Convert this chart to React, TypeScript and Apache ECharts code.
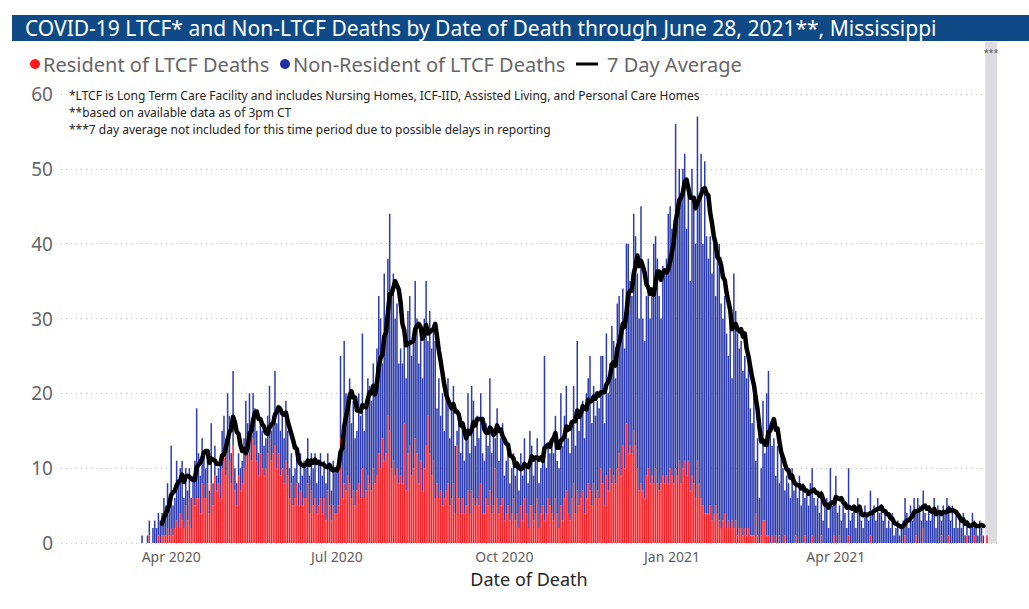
import React, { useEffect, useRef } from "react";
import * as echarts from "echarts";

// Axis spans 1 Feb 2020 .. 28 Jun 2021 (one category per day)
const AXIS_FIRST = { y: 2020, m: 1, d: 1 };
const AXIS_DAYS = 514;
// First date of the daily series: 16 Mar 2020
const FIRST_DAY = { y: 2020, m: 2, d: 16 };

// Daily total deaths (resident + non-resident), month by month
const total2020Mar = [1, 0, 0, 1, 3, 0, 2, 3, 2, 4, 3, 4, 6, 5, 8, 6];
const total2020Apr = [13, 5, 6, 11, 8, 10, 11, 6, 10, 7, 10, 6, 9, 11, 18, 12, 9, 14, 12, 10, 11, 7, 16, 8, 13, 9, 10, 11, 15, 17];
const total2020May = [14, 20, 17, 12, 23, 10, 8, 12, 10, 11, 14, 19, 16, 20, 15, 20, 18, 15, 12, 16, 15, 13, 14, 17, 21, 15, 17, 23, 16, 18, 15];
const total2020Jun = [17, 14, 19, 15, 10, 12, 9, 10, 13, 8, 12, 9, 11, 10, 14, 9, 12, 10, 12, 8, 11, 12, 9, 11, 8, 12, 10, 7, 11, 10];
const total2020Jul = [10, 12, 25, 14, 27, 20, 18, 22, 16, 19, 14, 15, 20, 17, 28, 15, 18, 22, 21, 19, 24, 20, 26, 33, 30, 24, 36, 28, 38, 44, 33];
const total2020Aug = [36, 30, 32, 24, 26, 24, 27, 22, 31, 33, 25, 27, 35, 30, 24, 28, 22, 30, 35, 27, 31, 26, 29, 27, 18, 22, 17, 20, 15, 20, 22];
const total2020Sep = [14, 18, 21, 13, 15, 17, 12, 16, 11, 14, 20, 12, 21, 19, 13, 17, 14, 20, 12, 11, 16, 13, 22, 12, 15, 14, 18, 11, 14, 16];
const total2020Oct = [9, 11, 13, 8, 10, 12, 9, 11, 7, 12, 9, 14, 10, 8, 15, 13, 9, 11, 14, 8, 10, 12, 25, 10, 13, 12, 14, 12, 17, 11, 10];
const total2020Nov = [20, 13, 17, 21, 14, 12, 16, 21, 13, 27, 15, 17, 19, 14, 20, 22, 25, 16, 21, 17, 19, 18, 25, 25, 16, 28, 20, 24, 29, 27];
const total2020Dec = [22, 32, 33, 28, 34, 26, 40, 40, 35, 33, 44, 41, 36, 30, 45, 30, 27, 33, 38, 30, 34, 40, 41, 38, 33, 30, 37, 36, 38, 44, 45];
const total2021Jan = [42, 40, 56, 44, 50, 46, 50, 52, 42, 48, 35, 50, 46, 40, 57, 46, 52, 40, 51, 41, 38, 41, 36, 40, 33, 38, 40, 32, 30, 33, 28];
const total2021Feb = [25, 30, 22, 36, 31, 28, 26, 27, 23, 25, 22, 24, 18, 16, 20, 11, 14, 6, 10, 19, 12, 20, 23, 15, 13, 14, 9, 13];
const total2021Mar = [8, 13, 10, 7, 9, 8, 6, 10, 7, 8, 6, 9, 5, 8, 6, 7, 5, 8, 10, 6, 5, 6, 4, 7, 3, 5, 6, 2, 10, 5, 6];
const total2021Apr = [9, 4, 5, 3, 6, 4, 2, 10, 3, 4, 5, 2, 6, 4, 3, 2, 5, 4, 3, 7, 4, 5, 3, 6, 4, 5, 3, 4, 2, 3];
const total2021May = [2, 4, 1, 2, 3, 1, 2, 3, 6, 4, 2, 5, 3, 6, 4, 6, 5, 3, 7, 4, 3, 5, 3, 4, 6, 2, 5, 4, 3, 5, 4];
const total2021Jun = [6, 5, 3, 5, 2, 4, 2, 3, 2, 4, 1, 3, 1, 2, 4, 3, 2, 1, 3, 2, 1, 0, 1, 0, 0, 0, 0, 0];

// Daily deaths of residents of long term care facilities
const res2020Mar = [0, 0, 0, 0, 1, 0, 0, 0, 0, 1, 0, 1, 1, 1, 2, 1];
const res2020Apr = [2, 1, 2, 3, 2, 4, 3, 2, 5, 3, 6, 2, 6, 5, 6, 6, 4, 8, 6, 6, 8, 4, 8, 5, 9, 7, 8, 6, 10, 12];
const res2020May = [9, 12, 11, 8, 13, 7, 5, 9, 7, 8, 10, 13, 12, 15, 11, 14, 13, 11, 9, 12, 10, 9, 10, 12, 14, 11, 12, 13, 10, 12, 9];
const res2020Jun = [10, 8, 11, 9, 6, 8, 5, 6, 8, 5, 7, 5, 6, 6, 8, 4, 7, 5, 6, 4, 5, 6, 4, 6, 3, 7, 5, 3, 5, 4];
const res2020Jul = [4, 5, 14, 6, 8, 7, 9, 8, 6, 7, 5, 7, 8, 6, 10, 6, 7, 9, 8, 7, 10, 8, 9, 12, 10, 14, 11, 12, 17, 15, 10];
const res2020Aug = [11, 9, 10, 8, 9, 8, 16, 7, 12, 13, 9, 10, 14, 12, 8, 11, 7, 10, 13, 17, 12, 9, 11, 6, 8, 6, 7, 5, 6, 7, 8];
const res2020Sep = [5, 6, 8, 4, 13, 6, 4, 6, 4, 5, 7, 4, 7, 6, 5, 6, 5, 8, 4, 4, 6, 5, 7, 4, 5, 10, 6, 4, 5, 6];
const res2020Oct = [3, 4, 5, 3, 4, 6, 3, 4, 2, 5, 3, 6, 4, 2, 5, 5, 3, 4, 6, 2, 4, 5, 3, 4, 6, 5, 4, 3, 6, 4, 2];
const res2020Nov = [5, 3, 6, 7, 4, 3, 6, 8, 4, 7, 5, 6, 7, 4, 6, 8, 7, 5, 8, 6, 7, 6, 10, 8, 5, 9, 7, 10, 8, 9];
const res2020Dec = [8, 10, 12, 9, 13, 10, 16, 12, 13, 12, 15, 13, 10, 7, 8, 7, 6, 9, 10, 8, 9, 8, 10, 8, 7, 8, 9, 8, 9, 8, 10];
const res2021Jan = [9, 8, 10, 9, 11, 8, 10, 11, 9, 11, 7, 9, 8, 6, 11, 8, 6, 5, 4, 4, 4, 5, 3, 4, 5, 4, 3, 2, 3, 4, 2];
const res2021Feb = [3, 2, 3, 2, 3, 1, 2, 2, 1, 2, 1, 2, 1, 1, 1, 4, 1, 0, 1, 3, 3, 1, 1, 0, 1, 0, 1, 0];
const res2021Mar = [1, 0, 0, 1, 0, 0, 0, 0, 0, 1, 0, 0, 0, 0, 1, 0, 0, 0, 1, 0, 0, 0, 0, 1, 0, 0, 0, 0, 0, 0, 1];
const res2021Apr = [0, 0, 1, 0, 0, 0, 0, 1, 0, 0, 0, 0, 0, 0, 0, 0, 0, 0, 0, 1, 0, 0, 0, 0, 0, 0, 0, 0, 0, 0];
const res2021May = [0, 0, 0, 0, 0, 0, 0, 0, 1, 0, 0, 0, 0, 0, 1, 0, 0, 0, 2, 0, 0, 0, 0, 0, 0, 0, 0, 0, 1, 0, 0];
const res2021Jun = [0, 1, 0, 0, 0, 0, 0, 0, 0, 0, 0, 1, 0, 0, 0, 1, 0, 0, 0, 1, 0, 0, 1, 0, 0, 0, 0, 0];

// Period shown with the 7-day average (later days excluded: reporting delays)
const AVG_FIRST = "2020-03-27";
const AVG_LAST = "2021-06-21";
const EXCLUDED_FROM = "2021-06-22";

const X_TICKS = ["2020-04-01", "2020-07-01", "2020-10-01", "2021-01-01", "2021-04-01"];
const MONTHS = ["Jan", "Feb", "Mar", "Apr", "May", "Jun", "Jul", "Aug", "Sep", "Oct", "Nov", "Dec"];

const TITLE = "COVID-19 LTCF* and Non-LTCF Deaths by Date of Death through June 28, 2021**, Mississippi";
const NOTES = [
  "*LTCF is Long Term Care Facility and includes Nursing Homes, ICF-IID, Assisted Living, and Personal Care Homes",
  "**based on available data as of 3pm CT",
  "***7 day average not included for this time period due to possible delays in reporting",
];

const RED = "#fb1f26";
const BLUE = "#2b3aad";
const FONT = '"Noto Sans", "DejaVu Sans", sans-serif';

const iso = (t: number) => new Date(t).toISOString().slice(0, 10);

export default function App() {
  const ref = useRef<HTMLDivElement>(null);

  useEffect(() => {
    if (!ref.current) return;
    const chart = echarts.init(ref.current, undefined, { renderer: "svg" });

    const totals = [
      ...total2020Mar, ...total2020Apr, ...total2020May, ...total2020Jun, ...total2020Jul, ...total2020Aug,
      ...total2020Sep, ...total2020Oct, ...total2020Nov, ...total2020Dec, ...total2021Jan, ...total2021Feb,
      ...total2021Mar, ...total2021Apr, ...total2021May, ...total2021Jun,
    ];
    const residents = [
      ...res2020Mar, ...res2020Apr, ...res2020May, ...res2020Jun, ...res2020Jul, ...res2020Aug,
      ...res2020Sep, ...res2020Oct, ...res2020Nov, ...res2020Dec, ...res2021Jan, ...res2021Feb,
      ...res2021Mar, ...res2021Apr, ...res2021May, ...res2021Jun,
    ];

    const categories: string[] = [];
    for (let i = 0; i < AXIS_DAYS; i++) categories.push(iso(Date.UTC(AXIS_FIRST.y, AXIS_FIRST.m, AXIS_FIRST.d + i)));
    const firstKey = iso(Date.UTC(FIRST_DAY.y, FIRST_DAY.m, FIRST_DAY.d));
    const offset = categories.indexOf(firstKey);

    const resData = categories.map((_, i) => (i >= offset && i - offset < residents.length ? residents[i - offset] : null));
    const nonResData = categories.map((_, i) =>
      i >= offset && i - offset < totals.length ? totals[i - offset] - residents[i - offset] : null
    );
    const avgData = categories.map((c, i) => {
      const j = i - offset;
      if (c < AVG_FIRST || c > AVG_LAST || j < 6) return null;
      let s = 0;
      for (let k = j - 6; k <= j; k++) s += totals[k];
      return s / 7;
    });

    const option: any = {
      animation: false,
      backgroundColor: "#ffffff",
      grid: { left: 61, right: 32, top: 94, bottom: 66 },
      xAxis: {
        type: "category",
        data: categories,
        boundaryGap: true,
        axisLine: { show: false },
        axisTick: { show: false },
        splitLine: { show: false },
        axisLabel: {
          interval: (_: number, v: string) => X_TICKS.indexOf(v) >= 0,
          formatter: (v: string) => MONTHS[Number(v.slice(5, 7)) - 1] + " " + v.slice(0, 4),
          color: "#605e5c",
          fontSize: 14,
          fontFamily: FONT,
          margin: 6,
          hideOverlap: false,
        },
        name: "Date of Death",
        nameLocation: "middle",
        nameGap: 27,
        nameTextStyle: { color: "#252423", fontSize: 18, fontFamily: FONT },
      },
      yAxis: {
        type: "value",
        min: 0,
        max: 60,
        interval: 10,
        axisLine: { show: false },
        axisTick: { show: false },
        axisLabel: { color: "#666666", fontSize: 19, fontFamily: FONT, margin: 8 },
        splitLine: { show: true, lineStyle: { color: "#c8c8c8", type: [1, 4], width: 1 } },
      },
      series: [
        {
          name: "Resident of LTCF Deaths",
          type: "bar",
          stack: "deaths",
          barCategoryGap: "18%",
          itemStyle: { color: RED },
          data: resData,
          z: 2,
        },
        {
          name: "Non-Resident of LTCF Deaths",
          type: "bar",
          stack: "deaths",
          barCategoryGap: "18%",
          itemStyle: { color: BLUE },
          data: nonResData,
          z: 2,
        },
        {
          name: "7 Day Average",
          type: "line",
          showSymbol: false,
          symbol: "none",
          connectNulls: false,
          lineStyle: { color: "#000000", width: 4.5, join: "round", cap: "round" },
          data: avgData,
          z: 4,
        },
      ],
    };
    chart.setOption(option);

    const bandW = 936 / AXIS_DAYS;
    const bx0 = chart.convertToPixel({ xAxisIndex: 0 }, EXCLUDED_FROM) as number;
    const bx1 = (chart.convertToPixel({ xAxisIndex: 0 }, categories[AXIS_DAYS - 1]) as number) + bandW / 2;
    const by0 = chart.convertToPixel({ yAxisIndex: 0 }, 0) as number;

    const graphics: any[] = [
      { type: "rect", shape: { x: 12, y: 15, width: 1017, height: 26 }, style: { fill: "#0f4a86" }, z: 10 },
      {
        type: "text", x: 25, y: 28, z: 11,
        style: { text: TITLE, fill: "#ffffff", fontSize: 21, fontFamily: FONT, verticalAlign: "middle" },
      },
      // excluded period band
      { type: "rect", shape: { x: bx0, y: 42, width: bx1 - bx0, height: by0 - 42 }, style: { fill: "#dcdce0" }, z: 1 },
      {
        type: "text", x: (bx0 + bx1) / 2, y: 52, z: 3,
        style: { text: "***", fill: "#555555", fontSize: 9, fontFamily: FONT, align: "center", verticalAlign: "middle" },
      },
      // legend
      { type: "circle", shape: { cx: 35, cy: 64, r: 5 }, style: { fill: "#ff1a1a" }, z: 10 },
      {
        type: "text", x: 43, y: 64, z: 10,
        style: { text: "Resident of LTCF Deaths", fill: "#666666", fontSize: 20, fontFamily: FONT, verticalAlign: "middle" },
      },
      { type: "circle", shape: { cx: 285, cy: 64, r: 5 }, style: { fill: "#1f2fa6" }, z: 10 },
      {
        type: "text", x: 293, y: 64, z: 10,
        style: { text: "Non-Resident of LTCF Deaths", fill: "#666666", fontSize: 20, fontFamily: FONT, verticalAlign: "middle" },
      },
      { type: "line", shape: { x1: 576, y1: 64, x2: 598, y2: 64 }, style: { stroke: "#000000", lineWidth: 3 }, z: 10 },
      {
        type: "text", x: 607, y: 64, z: 10,
        style: { text: "7 Day Average", fill: "#666666", fontSize: 20, fontFamily: FONT, verticalAlign: "middle" },
      },
      // notes
      ...NOTES.map((t, i) => ({
        type: "text", x: 69, y: 95 + i * 17, z: 10,
        style: { text: t, fill: "#252423", fontSize: 12, fontFamily: FONT, verticalAlign: "middle" },
      })),
    ];
    chart.setOption({ graphic: graphics });

    return () => chart.dispose();
  }, []);

  return (
    <div
      ref={ref}
      style={{ position: "fixed", left: 0, top: 0, width: 1029, height: 609, background: "#ffffff" }}
    />
  );
}
